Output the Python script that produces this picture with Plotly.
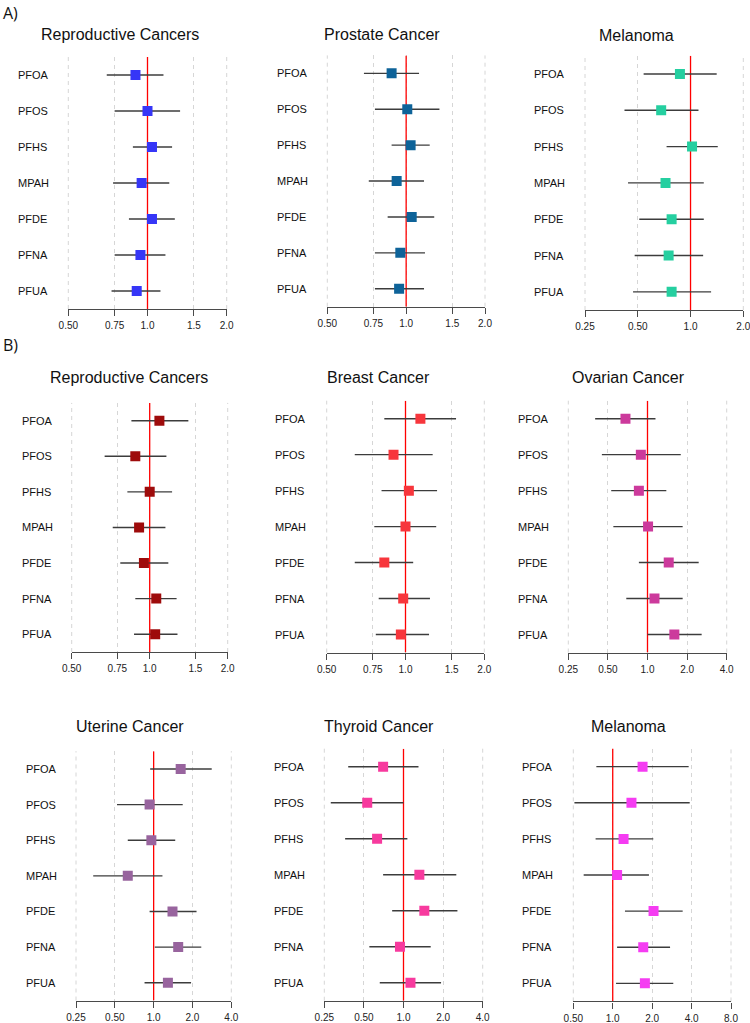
import numpy as np
import plotly.graph_objects as go

W, H = 750, 1023

chemicals = ["PFOA", "PFOS", "PFHS", "MPAH", "PFDE", "PFNA", "PFUA"]

# ---- Panel A: Reproductive Cancers ----
a_repro_or = [0.90, 1.00, 1.04, 0.95, 1.04, 0.94, 0.91]
a_repro_lo = [0.70, 0.75, 0.88, 0.74, 0.85, 0.75, 0.73]
a_repro_hi = [1.15, 1.33, 1.24, 1.21, 1.27, 1.17, 1.12]

# ---- Panel A: Prostate Cancer ----
a_prostate_or = [0.88, 1.01, 1.04, 0.92, 1.05, 0.95, 0.94]
a_prostate_lo = [0.69, 0.76, 0.88, 0.72, 0.85, 0.76, 0.76]
a_prostate_hi = [1.12, 1.34, 1.23, 1.17, 1.28, 1.18, 1.17]

# ---- Panel A: Melanoma ----
a_melanoma_or = [0.87, 0.68, 1.02, 0.72, 0.78, 0.75, 0.78]
a_melanoma_lo = [0.54, 0.42, 0.73, 0.44, 0.51, 0.48, 0.47]
a_melanoma_hi = [1.41, 1.11, 1.43, 1.19, 1.19, 1.18, 1.31]

# ---- Panel B: Reproductive Cancers ----
b_repro_or = [1.09, 0.88, 1.00, 0.91, 0.95, 1.06, 1.05]
b_repro_lo = [0.85, 0.67, 0.82, 0.72, 0.77, 0.88, 0.87]
b_repro_hi = [1.41, 1.16, 1.22, 1.15, 1.18, 1.27, 1.28]

# ---- Panel B: Breast Cancer ----
b_breast_or = [1.14, 0.90, 1.03, 1.00, 0.83, 0.98, 0.96]
b_breast_lo = [0.83, 0.64, 0.81, 0.76, 0.64, 0.79, 0.77]
b_breast_hi = [1.56, 1.27, 1.32, 1.31, 1.07, 1.24, 1.23]

# ---- Panel B: Ovarian Cancer ----
b_ovarian_or = [0.68, 0.89, 0.86, 1.01, 1.45, 1.13, 1.60]
b_ovarian_lo = [0.40, 0.45, 0.53, 0.55, 0.86, 0.69, 1.00]
b_ovarian_hi = [1.15, 1.79, 1.39, 1.85, 2.45, 1.85, 2.58]

# ---- Panel B: Uterine Cancer ----
b_uterine_or = [1.62, 0.93, 0.96, 0.63, 1.40, 1.55, 1.29]
b_uterine_lo = [0.94, 0.52, 0.63, 0.34, 0.93, 1.02, 0.85]
b_uterine_hi = [2.82, 1.68, 1.47, 1.17, 2.15, 2.34, 1.95]

# ---- Panel B: Thyroid Cancer ----
b_thyroid_or = [0.70, 0.53, 0.63, 1.32, 1.44, 0.94, 1.13]
b_thyroid_lo = [0.38, 0.28, 0.36, 0.70, 0.82, 0.55, 0.66]
b_thyroid_hi = [1.30, 1.00, 1.07, 2.52, 2.57, 1.61, 1.93]

# ---- Panel B: Melanoma ----
b_melanoma_or = [1.69, 1.39, 1.21, 1.08, 2.05, 1.71, 1.76]
b_melanoma_lo = [0.75, 0.51, 0.74, 0.60, 1.24, 1.08, 1.06]
b_melanoma_hi = [3.80, 3.87, 2.04, 1.89, 3.42, 2.74, 2.90]

# ---- Tick sets ----
ticks_050_200 = ([0.5, 0.75, 1.0, 1.5, 2.0], ["0.50", "0.75", "1.0", "1.5", "2.0"])
ticks_025_200 = ([0.25, 0.5, 1.0, 2.0], ["0.25", "0.50", "1.0", "2.0"])
ticks_025_400 = ([0.25, 0.5, 1.0, 2.0, 4.0], ["0.25", "0.50", "1.0", "2.0", "4.0"])
ticks_050_800 = ([0.5, 1.0, 2.0, 4.0, 8.0], ["0.50", "1.0", "2.0", "4.0", "8.0"])

panels = [
    dict(title="Reproductive Cancers", orr=a_repro_or, lo=a_repro_lo, hi=a_repro_hi,
         color="#3636F7", ticks=ticks_050_200),
    dict(title="Prostate Cancer", orr=a_prostate_or, lo=a_prostate_lo, hi=a_prostate_hi,
         color="#0E6399", ticks=ticks_050_200),
    dict(title="Melanoma", orr=a_melanoma_or, lo=a_melanoma_lo, hi=a_melanoma_hi,
         color="#25CFA0", ticks=ticks_025_200),
    dict(title="Reproductive Cancers", orr=b_repro_or, lo=b_repro_lo, hi=b_repro_hi,
         color="#9E0B0B", ticks=ticks_050_200),
    dict(title="Breast Cancer", orr=b_breast_or, lo=b_breast_lo, hi=b_breast_hi,
         color="#F7363C", ticks=ticks_050_200),
    dict(title="Ovarian Cancer", orr=b_ovarian_or, lo=b_ovarian_lo, hi=b_ovarian_hi,
         color="#CC3A9C", ticks=ticks_025_400),
    dict(title="Uterine Cancer", orr=b_uterine_or, lo=b_uterine_lo, hi=b_uterine_hi,
         color="#98649E", ticks=ticks_025_400),
    dict(title="Thyroid Cancer", orr=b_thyroid_or, lo=b_thyroid_lo, hi=b_thyroid_hi,
         color="#F73A9E", ticks=ticks_025_400),
    dict(title="Melanoma", orr=b_melanoma_or, lo=b_melanoma_lo, hi=b_melanoma_hi,
         color="#F53CF2", ticks=ticks_050_800),
]

# Layout geometry in pixels: x0, x1, ytop, ybottom, title_x, title_y, label_x
geometry = [
    (68.3, 226.7, 57.0, 309.0, 120.0, 35.0, 16.0),
    (327.3, 485.0, 55.4, 306.7, 381.7, 35.0, 275.0),
    (585.0, 743.3, 55.8, 310.0, 636.7, 36.0, 531.7),
    (71.7, 227.7, 402.9, 652.0, 129.0, 377.7, 20.0),
    (326.7, 484.3, 400.7, 652.5, 378.3, 377.3, 273.3),
    (568.3, 726.7, 400.7, 652.5, 628.3, 377.3, 515.7),
    (76.0, 231.3, 751.2, 1000.5, 130.0, 726.0, 24.0),
    (324.3, 482.7, 748.7, 1000.7, 379.0, 726.0, 272.0),
    (573.3, 731.0, 748.6, 1001.4, 628.3, 726.0, 520.0),
]

FONT = "Liberation Sans, Arial, Helvetica, sans-serif"
GRID = "#d6d6d6"
GRID_DASH = "4px,4px"

fig = go.Figure()
annotations = []
shapes = []
layout_axes = {}

ypos = list(range(len(chemicals)))

for i, (p, g) in enumerate(zip(panels, geometry)):
    x0, x1, yt, yb, tx, ty, lx = g
    n = "" if i == 0 else str(i + 1)
    xref, yref = "x" + n, "y" + n
    orr = np.array(p["orr"])
    lo = np.array(p["lo"])
    hi = np.array(p["hi"])
    tv, tt = p["ticks"]

    # dashed grid lines at the two range edges (plotly omits them)
    for xe in (x0, x1):
        shapes.append(dict(type="line", xref="paper", yref="paper",
                           x0=xe / W, x1=xe / W, y0=1 - yb / H, y1=1 - yt / H,
                           line=dict(color=GRID, width=1, dash=GRID_DASH), layer="below"))

    # reference line at OR = 1
    fig.add_trace(go.Scatter(
        x=[1.0, 1.0], y=[-0.5, len(chemicals) - 0.5], mode="lines",
        line=dict(color="#FF0000", width=1.3), xaxis=xref, yaxis=yref,
        showlegend=False, hoverinfo="skip"))

    fig.add_trace(go.Scatter(
        x=orr, y=ypos, mode="markers",
        marker=dict(symbol="square", size=10, color=p["color"], line=dict(width=0)),
        error_x=dict(type="data", symmetric=False, array=hi - orr, arrayminus=orr - lo,
                     width=0, thickness=1.4, color="#3c3c3c"),
        xaxis=xref, yaxis=yref, showlegend=False,
        text=chemicals, hovertemplate="%{text}: %{x:.2f}<extra></extra>"))

    layout_axes["xaxis" + n] = dict(
        type="log", domain=[x0 / W, x1 / W],
        range=[np.log10(tv[0]), np.log10(tv[-1])],
        tickvals=tv, ticktext=tt, anchor=yref, automargin=False,
        showline=True, linecolor="#4a4a4a", linewidth=1.3,
        ticks="outside", ticklen=6, tickwidth=1.2, tickcolor="#4a4a4a",
        showgrid=True, gridcolor=GRID, griddash=GRID_DASH, gridwidth=1,
        zeroline=False, tickfont=dict(family=FONT, size=10, color="#222"),
        ticklabelstandoff=1, ticklabeloverflow="allow", fixedrange=True)
    layout_axes["yaxis" + n] = dict(
        domain=[1 - yb / H, 1 - yt / H], range=[len(chemicals) - 0.5, -0.5],
        visible=False, anchor=xref, automargin=False, fixedrange=True)

    for j, chem in enumerate(chemicals):
        annotations.append(dict(
            x=lx / W, xref="paper", y=j, yref=yref, text=chem, showarrow=False,
            xanchor="left", yanchor="middle",
            font=dict(family=FONT, size=11, color="#111")))

    annotations.append(dict(
        x=tx / W, xref="paper", y=1 - ty / H, yref="paper", text=p["title"],
        showarrow=False, xanchor="center", yanchor="middle",
        font=dict(family=FONT, size=16, color="#111")))

annotations.append(dict(x=1 / W, xref="paper", y=1 - 13 / H, yref="paper", text="A)",
                        showarrow=False, xanchor="left", yanchor="middle",
                        font=dict(family="Open Sans, sans-serif", size=16, color="#111")))
annotations.append(dict(x=1 / W, xref="paper", y=1 - 345 / H, yref="paper", text="B)",
                        showarrow=False, xanchor="left", yanchor="middle",
                        font=dict(family="Open Sans, sans-serif", size=16, color="#111")))

fig.update_layout(
    template="none",
    width=W, height=H, margin=dict(l=0, r=0, t=0, b=0, autoexpand=False),
    paper_bgcolor="white", plot_bgcolor="white",
    showlegend=False, annotations=annotations, shapes=shapes, **layout_axes)

fig.write_html(
    "out.html", config={"displayModeBar": False},
    post_script="document.body.style.margin='0';document.body.style.overflow='hidden';")
